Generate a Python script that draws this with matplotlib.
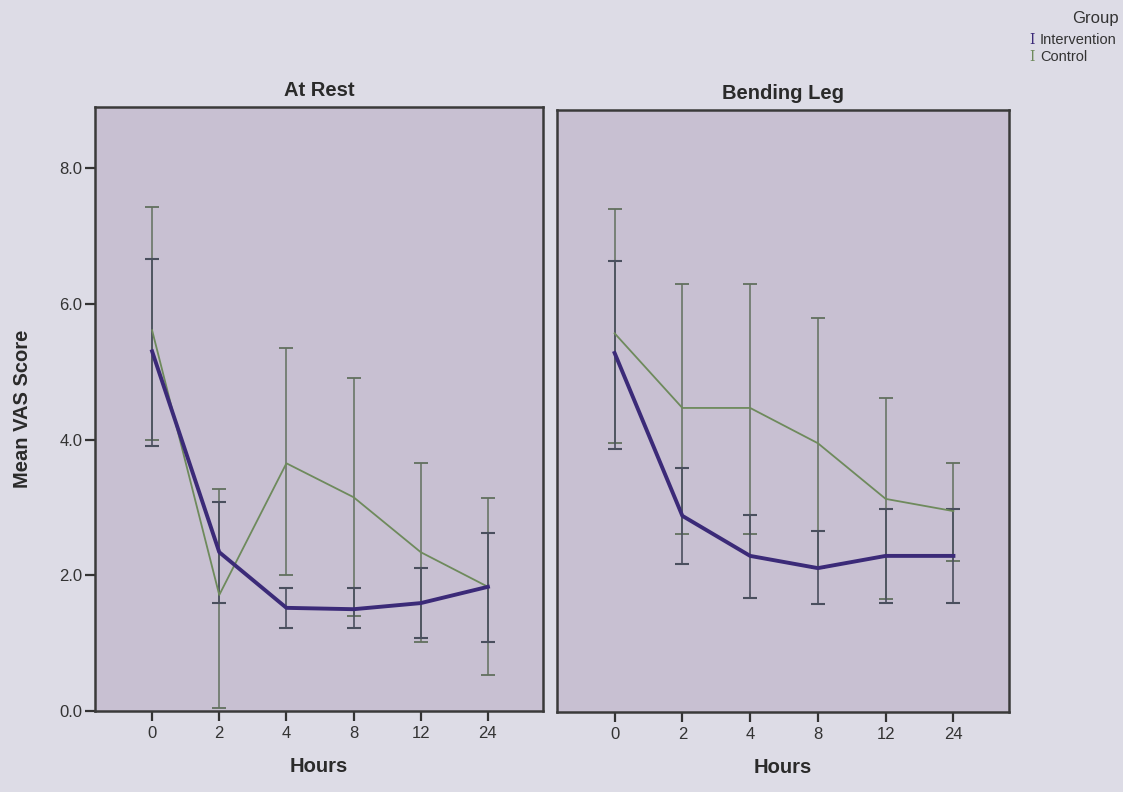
import matplotlib.pyplot as plt
import numpy as np

# Hours after surgery (categorical axis)
hours = ["0", "2", "4", "8", "12", "24"]

# At Rest - means and error bar ends
rest_int_mean = [5.30, 2.34, 1.52, 1.50, 1.59, 1.83]
rest_int_lo = [3.90, 1.59, 1.22, 1.22, 1.08, 1.02]
rest_int_hi = [6.66, 3.08, 1.81, 1.81, 2.10, 2.62]
rest_ctl_mean = [5.61, 1.71, 3.65, 3.15, 2.34, 1.83]
rest_ctl_lo = [4.00, 0.05, 2.00, 1.40, 1.02, 0.53]
rest_ctl_hi = [7.42, 3.27, 5.35, 4.90, 3.65, 3.14]

# Bending Leg
bend_int_mean = [5.29, 2.89, 2.30, 2.12, 2.30, 2.30]
bend_int_lo = [3.87, 2.18, 1.68, 1.59, 1.61, 1.61]
bend_int_hi = [6.64, 3.59, 2.91, 2.67, 2.99, 2.99]
bend_ctl_mean = [5.58, 4.48, 4.48, 3.96, 3.14, 2.96]
bend_ctl_lo = [3.96, 2.62, 2.62, 2.12, 1.66, 2.22]
bend_ctl_hi = [7.41, 6.30, 6.30, 5.80, 4.62, 3.67]

page_bg = "#dddce6"
plot_bg = "#c8c0d2"
int_color = "#3b2a78"
ctl_color = "#6e8a5c"
int_bar = "#4a4f5e"
ctl_bar = "#62705e"
font = ["Liberation Sans", "DejaVu Sans"]

plt.rcParams["font.family"] = font

fig = plt.figure(figsize=(11.23, 7.92), dpi=100)
fig.patch.set_facecolor(page_bg)

ax1 = fig.add_axes([95 / 1123, 81 / 792, 448 / 1123, 604 / 792])
ax2 = fig.add_axes([557 / 1123, 80 / 792, 452 / 1123, 602 / 792])


def draw_panel(ax, title, int_mean, int_lo, int_hi, ctl_mean, ctl_lo, ctl_hi, ytop):
    x = np.arange(len(hours))
    int_mean = np.array(int_mean)
    ctl_mean = np.array(ctl_mean)
    ax.set_facecolor(plot_bg)
    # error bars first, lines on top
    ax.errorbar(x, ctl_mean, yerr=[ctl_mean - np.array(ctl_lo), np.array(ctl_hi) - ctl_mean],
                fmt="none", ecolor=ctl_bar, elinewidth=1.1, capsize=5, capthick=1.3, zorder=2)
    ax.errorbar(x, int_mean, yerr=[int_mean - np.array(int_lo), np.array(int_hi) - int_mean],
                fmt="none", ecolor=int_bar, elinewidth=1.2, capsize=5, capthick=1.5, zorder=2)
    ax.plot(x, ctl_mean, color=ctl_color, linewidth=1.3, zorder=3)
    ax.plot(x, int_mean, color=int_color, linewidth=2.8, zorder=4)

    ax.set_xlim(-0.85, 5.82)
    ax.set_ylim(0, ytop)
    ax.set_xticks(x)
    ax.set_xticklabels(hours, fontsize=12, color="#333333")
    ax.tick_params(axis="x", length=7, width=1.6, color="#333333", pad=4)
    ax.set_title(title, fontsize=14.5, fontweight="bold", color="#2a2a2a", pad=8)
    ax.set_xlabel("Hours", fontsize=14.5, fontweight="bold", color="#2a2a2a", labelpad=11)
    for sp in ax.spines.values():
        sp.set_color("#3a3a3a")
        sp.set_linewidth(1.8)


draw_panel(ax1, "At Rest", rest_int_mean, rest_int_lo, rest_int_hi,
           rest_ctl_mean, rest_ctl_lo, rest_ctl_hi, 8.9)
draw_panel(ax2, "Bending Leg", bend_int_mean, bend_int_lo, bend_int_hi,
           bend_ctl_mean, bend_ctl_lo, bend_ctl_hi, 8.87)

ax1.set_yticks([0, 2, 4, 6, 8])
ax1.set_yticklabels(["0.0", "2.0", "4.0", "6.0", "8.0"], fontsize=12, color="#333333")
ax1.tick_params(axis="y", length=7, width=1.6, color="#333333", pad=2)
ax1.set_ylabel("Mean VAS Score", fontsize=14.5, fontweight="bold", color="#2a2a2a", labelpad=20)

ax2.set_yticks([])

# Legend in the top right corner
fig.text(1095 / 1123, 1 - 18 / 792, "Group", fontsize=12, color="#333333",
         ha="center", va="center")
fig.text(1032 / 1123, 1 - 40 / 792, "I", fontsize=10, color=int_color,
         family="DejaVu Serif", ha="center", va="center")
fig.text(1040 / 1123, 1 - 40 / 792, "Intervention", fontsize=10.5, color="#333333",
         ha="left", va="center")
fig.text(1032 / 1123, 1 - 57 / 792, "I", fontsize=10, color=ctl_color,
         family="DejaVu Serif", ha="center", va="center")
fig.text(1040 / 1123, 1 - 57 / 792, "Control", fontsize=10.5, color="#333333",
         ha="left", va="center")

fig.savefig("out.png", dpi=100, facecolor=page_bg)
